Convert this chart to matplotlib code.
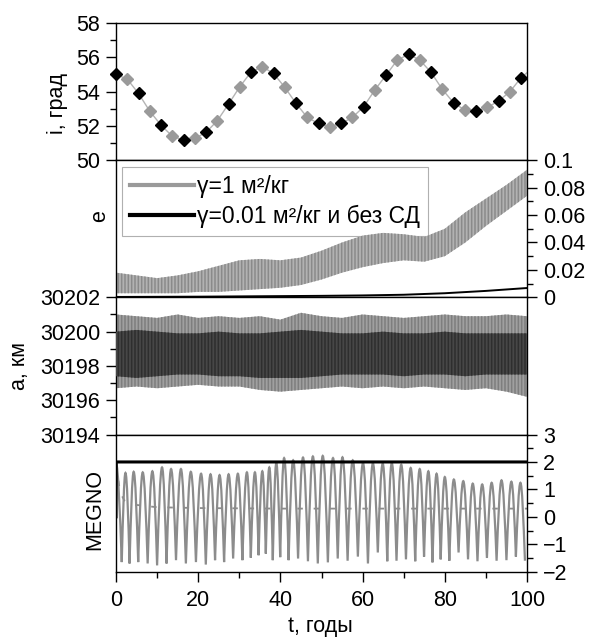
import numpy as np
import matplotlib
matplotlib.use("Agg")
import matplotlib.pyplot as plt
from matplotlib.path import Path
from matplotlib.patches import PathPatch
from matplotlib.lines import Line2D
from matplotlib.ticker import MultipleLocator, FuncFormatter

plt.rcParams['font.family'] = ['Liberation Sans', 'DejaVu Sans']
plt.rcParams['hatch.linewidth'] = 1.1

FS = 15.5

# ---------------- data ----------------
# inclination, sampled every 1000 days
incl_step = 1000.0 / 365.25
incl = [55.0, 54.73, 53.89, 52.86, 52.04, 51.4, 51.17, 51.27, 51.62, 52.3,
        53.27, 54.28, 55.14, 55.45, 55.06, 54.25, 53.31, 52.49, 52.14, 51.95,
        52.14, 52.49, 53.11, 54.09, 54.96, 55.84, 56.17, 55.84, 55.12, 54.13,
        53.35, 52.92, 52.86, 53.08, 53.45, 53.99, 54.81]
incl_end_t = 100.0
incl_end = 55.1

# eccentricity, gamma = 1: envelope of the fast oscillation
t_env = [0, 5, 10, 15, 20, 25, 30, 35, 40, 45, 50, 55, 60, 65, 70, 75, 80, 85, 90, 95, 100]
e_hi = [0.018, 0.016, 0.014, 0.016, 0.019, 0.023, 0.027, 0.028, 0.027, 0.029, 0.034,
        0.040, 0.045, 0.047, 0.046, 0.044, 0.050, 0.062, 0.072, 0.082, 0.093]
e_lo = [0.003, 0.003, 0.003, 0.003, 0.004, 0.004, 0.005, 0.006, 0.007, 0.009, 0.013,
        0.018, 0.022, 0.025, 0.027, 0.026, 0.030, 0.040, 0.052, 0.063, 0.074]

# eccentricity, gamma = 0.01 and no SRP
t_e_ref = [0, 10, 20, 30, 40, 50, 60, 70, 80, 90, 100]
e_ref = [0.0003, 0.0004, 0.0005, 0.0007, 0.0009, 0.0011, 0.0014, 0.0019, 0.0030, 0.0047, 0.0068]

# semi-major axis envelopes (km)
a_gray_hi = [30201.0, 30200.9, 30200.8, 30201.0, 30200.8, 30200.9, 30200.8, 30200.9, 30200.7,
             30201.1, 30200.9, 30200.8, 30201.0, 30200.9, 30200.8, 30200.9, 30201.0, 30200.9,
             30200.9, 30201.0, 30200.9]
a_gray_lo = [30196.7, 30196.8, 30196.7, 30196.8, 30196.9, 30196.8, 30196.8, 30196.6, 30196.5,
             30196.6, 30196.7, 30196.8, 30196.7, 30196.8, 30196.7, 30196.8, 30196.7, 30196.6,
             30196.7, 30196.5, 30196.2]
a_dark_hi = [30200.0, 30200.1, 30200.0, 30199.9, 30199.9, 30200.0, 30199.9, 30199.9, 30200.0,
             30200.1, 30200.0, 30199.9, 30199.9, 30200.0, 30199.9, 30199.9, 30200.0, 30199.9,
             30199.9, 30199.9, 30199.9]
a_dark_lo = [30197.4, 30197.3, 30197.4, 30197.5, 30197.5, 30197.4, 30197.4, 30197.3, 30197.3,
             30197.3, 30197.4, 30197.5, 30197.5, 30197.5, 30197.4, 30197.5, 30197.5, 30197.4,
             30197.5, 30197.5, 30197.5]

# MEGNO, gamma = 1: extrema of the oscillation
megno_start = 1.95
t_peak = [2.3, 4.3, 6.5, 8.85, 11.2, 13.4, 15.8, 18.2, 20.7, 23.0, 25.2, 27.4, 29.65, 31.85,
          33.8, 35.6, 37.3, 39.0, 40.9, 43.1, 45.5, 47.9, 50.3, 52.8, 55.1, 57.6, 60.1, 62.5,
          64.9, 67.1, 69.4, 71.7, 73.9, 76.0, 78.0, 80.0, 82.2, 84.5, 86.8, 89.1, 91.4, 93.8,
          96.2, 98.4]
y_peak = [1.60, 1.64, 1.62, 1.66, 1.80, 1.74, 1.74, 1.64, 1.57, 1.55, 1.52, 1.55, 1.57, 1.62,
          1.62, 1.66, 1.80, 1.96, 2.14, 2.06, 2.16, 2.20, 2.22, 2.14, 2.17, 2.06, 1.96, 1.95,
          1.94, 1.96, 1.90, 1.78, 1.74, 1.66, 1.57, 1.45, 1.36, 1.30, 1.21, 1.18, 1.24, 1.33,
          1.28, 1.24]
t_trough = [1.4, 3.3, 5.4, 7.7, 10.0, 12.3, 14.6, 17.0, 19.45, 21.85, 24.1, 26.3, 28.5, 30.75,
            32.8, 34.7, 36.45, 38.15, 39.95, 42.0, 44.3, 46.7, 49.1, 51.55, 53.95, 56.35, 58.85,
            61.3, 63.7, 66.0, 68.25, 70.55, 72.8, 74.95, 77.0, 79.0, 81.1, 83.35, 85.65, 87.95,
            90.25, 92.6, 95.0, 97.3, 99.5]
y_trough = [-1.65, -1.70, -1.65, -1.70, -1.77, -1.70, -1.58, -1.70, -1.65, -1.74,
            -1.58, -1.65, -1.52, -1.58, -1.49, -1.40, -1.34, -1.58, -1.47, -1.58,
            -1.52, -1.62, -1.70, -1.66, -1.52, -1.60, -1.45, -1.70, -1.30, -1.62,
            -1.60, -1.55, -1.62, -1.45, -1.66, -1.55, -1.60, -1.30, -1.55, -1.62,
            -1.50, -1.60, -1.58, -1.45, -1.60]
# running mean of MEGNO, gamma = 1
t_megno_mean = [0, 1, 2, 4, 10, 20, 40, 60, 80, 100]
megno_mean = [1.9, 0.9, 0.6, 0.45, 0.35, 0.32, 0.30, 0.30, 0.30, 0.30]
# MEGNO, gamma = 0.01 and no SRP
t_megno_ref = [0.0, 0.05, 100.0]
megno_ref = [0.0, 2.0, 2.0]

GRAY = '#8c8c8c'

# ---------------- figure ----------------
fig = plt.figure(figsize=(5.89, 6.38), dpi=100)
gs = fig.add_gridspec(4, 1, left=116 / 589, right=527 / 589,
                      top=1 - 23 / 638, bottom=1 - 571.7 / 638, hspace=0)
axes = [fig.add_subplot(gs[k]) for k in range(4)]

for ax in axes:
    ax.set_xlim(0, 100)
    for sp in ax.spines.values():
        sp.set_linewidth(1.0)
    ax.tick_params(which='major', length=7.5, width=1.0, labelsize=FS, pad=4)
    ax.tick_params(which='minor', length=4.5, width=1.0)
    ax.tick_params(axis='x', which='both', bottom=False, labelbottom=False)

plain = FuncFormatter(lambda v, p: f'{v:g}')

# --- panel 1: inclination
ax1 = axes[0]
t_incl = np.arange(len(incl)) * incl_step
incl_arr = np.array(incl)
ax1.plot(list(t_incl) + [incl_end_t], incl + [incl_end], color='#b4b4b4', lw=1.0, zorder=2)
even = slice(0, None, 2)
odd = slice(1, None, 2)
ax1.plot(t_incl[odd], incl_arr[odd], ls='none', marker='D', ms=6.3, mfc='#9a9a9a',
         mec='#9a9a9a', zorder=3, clip_on=False)
ax1.plot(t_incl[even], incl_arr[even], ls='none', marker='D', ms=6.3, mfc='black',
         mec='black', zorder=4, clip_on=False)
ax1.set_ylim(50, 58)
ax1.yaxis.set_major_locator(MultipleLocator(2))
ax1.yaxis.set_minor_locator(MultipleLocator(1))

# --- panel 2: eccentricity
ax2 = axes[1]
ax2.fill_between(t_env, e_lo, e_hi, facecolor='#b2b2b2', edgecolor='#8a8a8a',
                 hatch='|||||', lw=0, zorder=2)
ax2.plot(t_e_ref, e_ref, color='black', lw=1.4, zorder=3)
ax2.set_ylim(0, 0.1)
ax2.yaxis.tick_right()
ax2.yaxis.set_major_locator(MultipleLocator(0.02))
ax2.yaxis.set_minor_locator(MultipleLocator(0.01))
ax2.yaxis.set_major_formatter(plain)
handles = [Line2D([], [], color='#9a9a9a', lw=3.0),
           Line2D([], [], color='black', lw=3.0)]
leg = ax2.legend(handles, ['γ=1 м²/кг', 'γ=0.01 м²/кг и без СД'],
                 loc='upper left', bbox_to_anchor=(0.015, 0.95), borderaxespad=0,
                 fontsize=16.5, frameon=True, fancybox=False, framealpha=1,
                 edgecolor='#b0b0b0', handlelength=2.8, handletextpad=0.1,
                 borderpad=0.35, labelspacing=0.3)
leg.get_frame().set_linewidth(0.8)
leg.set_zorder(1.5)

# --- panel 3: semi-major axis
ax3 = axes[2]
ax3.fill_between(t_env, a_gray_lo, a_gray_hi, facecolor='#a0a0a0', edgecolor='#7e7e7e',
                 hatch='|||||', lw=0, zorder=2)
ax3.fill_between(t_env, a_dark_lo, a_dark_hi, facecolor='#474747', edgecolor='#2e2e2e',
                 hatch='|||||', lw=0, zorder=3)
ax3.set_ylim(30194, 30202)
ax3.yaxis.set_major_locator(MultipleLocator(2))
ax3.yaxis.set_minor_locator(MultipleLocator(1))
ax3.yaxis.set_major_formatter(plain)

# --- panel 4: MEGNO
ax4 = axes[3]
verts = [(0.0, megno_start)]
codes = [Path.MOVETO]
prev = (0.0, megno_start)
for k in range(len(t_trough)):
    tt, yt = t_trough[k], y_trough[k]
    tp, yp = prev
    # falling branch: rounded top, sharp bottom
    verts += [(tp + 0.362 * (tt - tp), yp),
              (tp + 0.674 * (tt - tp), yt + 0.512 * (yp - yt)),
              (tt, yt)]
    codes += [Path.CURVE4] * 3
    if k < len(t_peak):
        tp, yp = t_peak[k], y_peak[k]
        verts += [(tt + 0.326 * (tp - tt), yt + 0.512 * (yp - yt)),
                  (tt + 0.638 * (tp - tt), yp),
                  (tp, yp)]
        codes += [Path.CURVE4] * 3
        prev = (tp, yp)
ax4.add_patch(PathPatch(Path(verts, codes), fill=False, edgecolor=GRAY, lw=1.6, zorder=2))
ax4.plot(t_megno_mean, megno_mean, color=GRAY, lw=1.3, ls=(0, (3, 6)), zorder=2)
ax4.plot(t_megno_ref, megno_ref, color='black', lw=2.2, zorder=3)
ax4.set_ylim(-2, 3)
ax4.yaxis.tick_right()
ax4.yaxis.set_major_locator(MultipleLocator(1))
ax4.yaxis.set_minor_locator(MultipleLocator(0.5))
ax4.tick_params(axis='x', which='both', bottom=True, labelbottom=True, pad=6)
ax4.xaxis.set_major_locator(MultipleLocator(20))
ax4.xaxis.set_minor_locator(MultipleLocator(10))

# axis titles
def ftext(x, y, s, **kw):
    fig.text(x / 589, 1 - y / 638, s, fontsize=FS, **kw)

ftext(57.5, 104, 'i, град', rotation=90, ha='center', va='center')
ftext(100, 216, 'e', rotation=90, ha='center', va='center')
ftext(20, 366, 'a, км', rotation=90, ha='center', va='center')
ftext(94.5, 510, 'MEGNO', rotation=90, ha='center', va='center')
ftext(320, 632, 't, годы', ha='center', va='baseline')

fig.savefig('out.png', dpi=100)
